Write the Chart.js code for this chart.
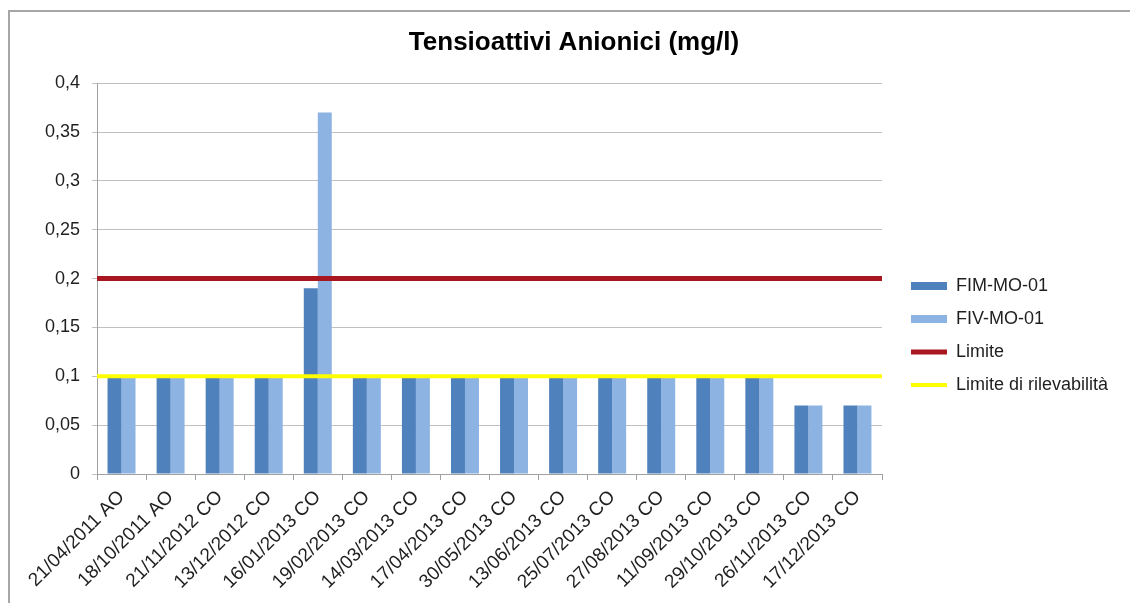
<!DOCTYPE html>
<html>
<head>
<meta charset="utf-8">
<script src="https://cdn.jsdelivr.net/npm/chart.js@4.4.1/dist/chart.umd.min.js"></script>
<style>
  html, body { margin: 0; padding: 0; background: #ffffff; }
  #wrap { position: relative; width: 1130px; height: 603px; overflow: hidden; }
  #frame { position: absolute; left: 8px; top: 10px; width: 1200px; height: 700px;
           border-left: 2px solid #a6a6a6; border-top: 2px solid #a6a6a6; }
  #c { position: absolute; left: 0; top: 0; }
</style>
</head>
<body>
<div id="wrap">
  <div id="frame"></div>
  <canvas id="c" width="1130" height="603"></canvas>
</div>
<script>
const titleText = 'Tensioattivi Anionici (mg/l)';
const categories = ['21/04/2011 AO','18/10/2011 AO','21/11/2012 CO','13/12/2012 CO','16/01/2013 CO','19/02/2013 CO','14/03/2013 CO','17/04/2013 CO','30/05/2013 CO','13/06/2013 CO','25/07/2013 CO','27/08/2013 CO','11/09/2013 CO','29/10/2013 CO','26/11/2013 CO','17/12/2013 CO'];
const fimValues = [0.1, 0.1, 0.1, 0.1, 0.19, 0.1, 0.1, 0.1, 0.1, 0.1, 0.1, 0.1, 0.1, 0.1, 0.07, 0.07];
const fivValues = [0.1, 0.1, 0.1, 0.1, 0.37, 0.1, 0.1, 0.1, 0.1, 0.1, 0.1, 0.1, 0.1, 0.1, 0.07, 0.07];
const limiteValues = [0.2, 0.2, 0.2, 0.2, 0.2, 0.2, 0.2, 0.2, 0.2, 0.2, 0.2, 0.2, 0.2, 0.2, 0.2, 0.2];
const rilevValues = [0.1, 0.1, 0.1, 0.1, 0.1, 0.1, 0.1, 0.1, 0.1, 0.1, 0.1, 0.1, 0.1, 0.1, 0.1, 0.1];
const seriesNames = ['FIM-MO-01', 'FIV-MO-01', 'Limite', 'Limite di rilevabilità'];
const yTickLabels = ['0', '0,05', '0,1', '0,15', '0,2', '0,25', '0,3', '0,35', '0,4'];

const FONT = "'Liberation Sans', Arial, sans-serif";
const TEXT = '#1f1f1f';
const GRID = '#c0c0c0';
const AXIS = '#a0a0a0';

const LEGEND_WIDTH = 248;
const LEGEND_DX = 14;
const LEGEND_DY = 34;
// dataset index -> legend position
const legendRank = [2, 0, 1, 3];

const legendLayout = {
  id: 'legendLayout',
  beforeLayout(chart) {
    const lg = chart.legend;
    if (lg && !lg._fixedWidth) {
      const origFit = lg.fit.bind(lg);
      lg.fit = function () { origFit(); this.width = LEGEND_WIDTH; };
      lg._fixedWidth = true;
    }
  },
  afterLayout(chart) {
    const lg = chart.legend;
    lg.left += LEGEND_DX; lg.right += LEGEND_DX;
    lg.top += LEGEND_DY; lg.bottom += LEGEND_DY;
  }
};

// In this build every dataset takes a slot in the bar group, so the two bars sit in
// the two middle slots of four and the category share is doubled accordingly.
const chart = new Chart(document.getElementById('c'), {
  data: {
    labels: categories,
    datasets: [
      { type: 'line', label: seriesNames[2], data: limiteValues, borderColor: '#a8171f',
        backgroundColor: '#a8171f', borderWidth: 5, pointRadius: 0, pointStyle: 'line',
        fill: false, order: 0, xAxisID: 'xl', yAxisID: 'y' },
      { type: 'bar', label: seriesNames[0], data: fimValues, backgroundColor: '#4f81bd',
        borderWidth: 0, pointStyle: 'rect', order: 1, xAxisID: 'x', yAxisID: 'y',
        categoryPercentage: 1.14, barPercentage: 1.0 },
      { type: 'bar', label: seriesNames[1], data: fivValues, backgroundColor: '#8db3e2',
        borderWidth: 0, pointStyle: 'rect', order: 1, xAxisID: 'x', yAxisID: 'y',
        categoryPercentage: 1.14, barPercentage: 1.0 },
      { type: 'line', label: seriesNames[3], data: rilevValues, borderColor: '#ffff00',
        backgroundColor: '#ffff00', borderWidth: 4, pointRadius: 0, pointStyle: 'line',
        fill: false, order: 0, xAxisID: 'xl', yAxisID: 'y' }
    ]
  },
  options: {
    responsive: false,
    animation: false,
    devicePixelRatio: 1,
    layout: { padding: { left: 18, right: 0, top: 0, bottom: 0 } },
    plugins: {
      title: {
        display: true, text: titleText, color: '#000000',
        font: { family: FONT, size: 26, weight: 'bold' },
        padding: { top: 27, bottom: 25 }
      },
      legend: {
        display: true, position: 'right', align: 'center',
        labels: {
          color: TEXT, font: { family: FONT, size: 18 },
          usePointStyle: true, pointStyleWidth: 36, boxHeight: 8, padding: 15,
          sort: (a, b) => legendRank[a.datasetIndex] - legendRank[b.datasetIndex]
        }
      },
      tooltip: { enabled: false }
    },
    scales: {
      x: {
        type: 'category', position: 'bottom', offset: true,
        grid: { display: true, drawOnChartArea: false, drawTicks: true, tickLength: 6, color: AXIS, offset: true },
        border: { display: true, color: AXIS, width: 1 },
        ticks: { color: TEXT, font: { family: FONT, size: 19 }, autoSkip: false,
                 minRotation: 45, maxRotation: 45, padding: 6 },
        afterFit(scale) { scale.height = 129; }
      },
      xl: {
        type: 'category', labels: categories, display: false, offset: false
      },
      y: {
        type: 'linear', position: 'left', min: 0, max: 0.4,
        grid: { color: GRID, lineWidth: 1, drawTicks: true, tickLength: 5 },
        border: { display: true, color: AXIS, width: 1 },
        ticks: { stepSize: 0.05, color: TEXT, font: { family: FONT, size: 18 }, padding: 12,
                 callback: (v, i) => yTickLabels[i] },
        afterFit(scale) { scale.width = 79; }
      }
    }
  },
  plugins: [legendLayout]
});
</script>
</body>
</html>
